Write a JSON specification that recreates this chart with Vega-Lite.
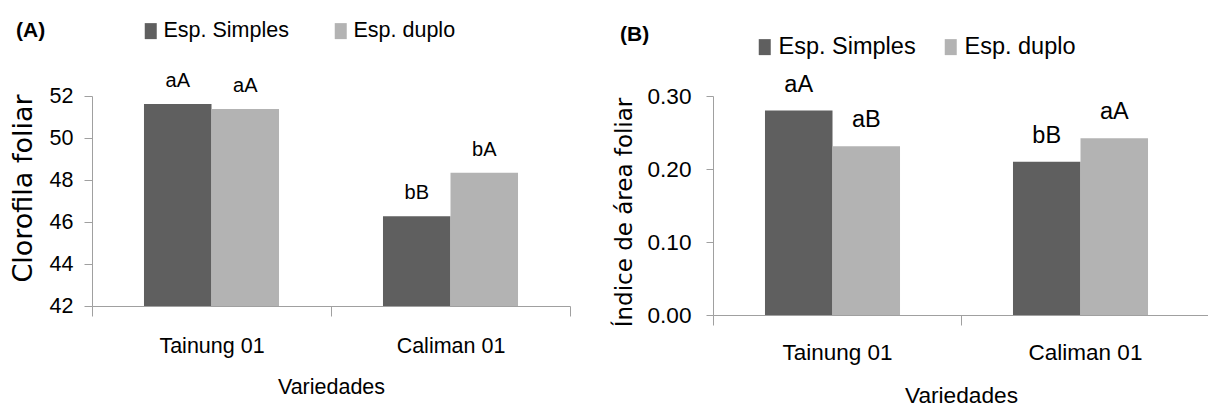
{
  "$schema": "https://vega.github.io/schema/vega-lite/v6.json",
  "background": "white",
  "padding": {"left": 9, "top": 20, "right": 0, "bottom": 0},
  "spacing": 42,
  "config": {
    "view": {"stroke": null},
    "font": "Liberation Sans",
    "axis": {
      "grid": false,
      "domainColor": "#a0a0a0",
      "tickColor": "#a0a0a0",
      "labelColor": "#000000",
      "titleColor": "#000000",
      "labelFont": "Liberation Sans",
      "titleFont": "Liberation Sans",
      "titleFontWeight": "normal"
    },
    "legend": {"padding": 0, "labelColor": "#000000", "titleColor": "#000000", "labelFont": "Liberation Sans", "titleFont": "Liberation Sans Narrow, Liberation Sans"}
  },
  "datasets": {
    "a": [
      {"variedade": "Tainung 01", "espacamento": "Esp. Simples", "valor": 51.62, "letras": "aA"},
      {"variedade": "Tainung 01", "espacamento": "Esp. duplo", "valor": 51.38, "letras": "aA"},
      {"variedade": "Caliman 01", "espacamento": "Esp. Simples", "valor": 46.27, "letras": "bB"},
      {"variedade": "Caliman 01", "espacamento": "Esp. duplo", "valor": 48.34, "letras": "bA"}
    ],
    "b": [
      {"variedade": "Tainung 01", "espacamento": "Esp. Simples", "valor": 0.28, "letras": "aA"},
      {"variedade": "Tainung 01", "espacamento": "Esp. duplo", "valor": 0.231, "letras": "aB"},
      {"variedade": "Caliman 01", "espacamento": "Esp. Simples", "valor": 0.21, "letras": "bB"},
      {"variedade": "Caliman 01", "espacamento": "Esp. duplo", "valor": 0.242, "letras": "aA"}
    ]
  },
  "resolve": {"scale": {"color": "independent"}, "legend": {"color": "independent"}},
  "hconcat": [
    {
      "width": 478,
      "height": 210,
      "data": {"name": "a"},
      "encoding": {
        "x": {
          "field": "variedade", "type": "nominal", "sort": ["Tainung 01", "Caliman 01"],
          "scale": {"paddingInner": 0, "paddingOuter": 0},
          "axis": {"title": "Variedades", "labelAngle": 0, "tickBand": "extent", "tickSize": 10, "labelPadding": 19, "labelFontSize": 21.5, "titleFontSize": 21.5, "titlePadding": 20}
        },
        "xOffset": {"field": "espacamento", "type": "nominal", "sort": ["Esp. Simples", "Esp. duplo"], "scale": {"paddingInner": 0, "paddingOuter": 0.77}},
        "y": {
          "field": "valor", "type": "quantitative",
          "scale": {"domain": [42, 52], "nice": false, "zero": false},
          "axis": {"title": "Clorofila foliar", "values": [42, 44, 46, 48, 50, 52], "tickSize": 8, "labelPadding": 11, "labelFontSize": 21.5, "titleFont": "DejaVu Sans", "titleFontSize": 27, "titlePadding": 12, "titleY": 92}
        }
      },
      "layer": [
        {
          "mark": {"type": "bar", "clip": true},
          "encoding": {
            "color": {
              "field": "espacamento", "type": "nominal",
              "scale": {"domain": ["Esp. Simples", "Esp. duplo"], "range": ["#5f5f5f", "#b3b3b3"]},
              "legend": {
                "orient": "none", "legendX": -76, "legendY": -76, "direction": "horizontal",
                "title": "(A)", "titleOrient": "left", "titleFontSize": 21, "titleFontWeight": "bold", "titlePadding": 94,
                "labelFontSize": 21.5, "labelOffset": 2, "columnPadding": 41, "labelLimit": 0,
                "symbolType": "M-0.75,-1H0.75V1H-0.75Z", "symbolSize": 256, "symbolStrokeWidth": 0, "symbolOpacity": 1
              }
            }
          }
        },
        {
          "mark": {"type": "text", "baseline": "alphabetic", "dy": -17, "fontSize": 20, "color": "#000000"},
          "encoding": {"text": {"field": "letras", "type": "nominal"}}
        }
      ]
    },
    {
      "width": 496,
      "height": 219,
      "data": {"name": "b"},
      "encoding": {
        "x": {
          "field": "variedade", "type": "nominal", "sort": ["Tainung 01", "Caliman 01"],
          "scale": {"paddingInner": 0, "paddingOuter": 0},
          "axis": {"title": "Variedades", "labelAngle": 0, "tickBand": "extent", "tickSize": 10, "labelPadding": 16, "labelFontSize": 22.5, "titleFontSize": 22.7, "titlePadding": 21}
        },
        "xOffset": {"field": "espacamento", "type": "nominal", "sort": ["Esp. Simples", "Esp. duplo"], "scale": {"paddingInner": 0, "paddingOuter": 0.73}},
        "y": {
          "field": "valor", "type": "quantitative",
          "scale": {"domain": [0, 0.3], "nice": false},
          "axis": {"title": "Índice de área foliar", "values": [0, 0.1, 0.2, 0.3], "format": ".2f", "tickSize": 7, "labelPadding": 15, "labelFontSize": 22.6, "titleFont": "DejaVu Sans", "titleFontSize": 23, "titlePadding": 11, "titleY": 116}
        }
      },
      "layer": [
        {
          "mark": {"type": "bar", "clip": true},
          "encoding": {
            "color": {
              "field": "espacamento", "type": "nominal",
              "scale": {"domain": ["Esp. Simples", "Esp. duplo"], "range": ["#5f5f5f", "#b3b3b3"]},
              "legend": {
                "orient": "none", "legendX": -93, "legendY": -61, "direction": "horizontal",
                "title": "(B)", "titleOrient": "left", "titleFontSize": 21, "titleFontWeight": "bold", "titlePadding": 103, "titleAnchor": "start", "titleBaseline": "middle",
                "labelFontSize": 23.5, "labelOffset": 2, "columnPadding": 23, "labelLimit": 0,
                "symbolType": "M-0.75,-1H0.75V1H-0.75Z", "symbolSize": 256, "symbolStrokeWidth": 0, "symbolOpacity": 1
              }
            }
          }
        },
        {
          "mark": {"type": "text", "baseline": "alphabetic", "dy": -19, "fontSize": 23.5, "color": "#000000"},
          "encoding": {"text": {"field": "letras", "type": "nominal"}}
        }
      ]
    }
  ]
}
